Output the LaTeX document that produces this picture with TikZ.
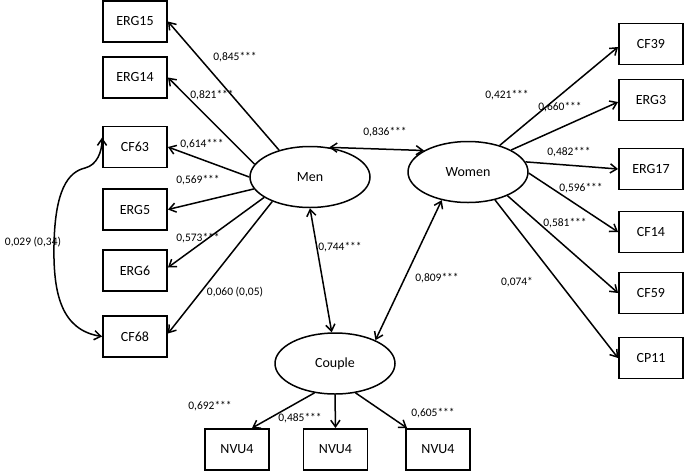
\documentclass[tikz,border=0pt]{standalone}
\usepackage{fontspec}
\setmainfont{Carlito}
\usetikzlibrary{shapes.geometric,arrows.meta}
\begin{document}
\begin{tikzpicture}[x=1pt,y=-1pt,
  box/.style={draw,line width=1.9pt,minimum width=64pt,minimum height=41pt,inner sep=0pt,font=\fontsize{14}{16}\selectfont},
  lat/.style={draw,ellipse,line width=1.5pt,minimum width=120pt,minimum height=61pt,inner sep=0pt,font=\fontsize{14}{16}\selectfont},
  arr/.style={line width=1.5pt,-{Straight Barb[angle=70:8pt]}},
  darr/.style={line width=1.5pt,{Straight Barb[angle=70:8pt]}-{Straight Barb[angle=70:8pt]}},
  lab/.style={font=\fontsize{11.5}{13}\selectfont,inner sep=1pt}]
\useasboundingbox (0,0) rectangle (685,472);
% left boxes
\node[box] (erg15) at (135,21.5) {ERG15};
\node[box] (erg14) at (135,77.5) {ERG14};
\node[box] (cf63) at (135,147) {CF63};
\node[box] (erg5) at (135,209.5) {ERG5};
\node[box] (erg6) at (135,270.5) {ERG6};
\node[box] (cf68) at (135,336.5) {CF68};
% right boxes
\node[box] (cf39) at (651,44) {CF39};
\node[box] (erg3) at (651,100) {ERG3};
\node[box] (erg17) at (651,169) {ERG17};
\node[box] (cf14) at (651,232) {CF14};
\node[box] (cf59) at (651,293) {CF59};
\node[box] (cp11) at (651,358) {CP11};
% bottom boxes
\node[box] (nvuA) at (237,449.5) {NVU4};
\node[box] (nvuB) at (335.5,449.5) {NVU4};
\node[box] (nvuC) at (438,449.5) {NVU4};
% latent
\node[lat] (men) at (310,177) {Men};
\node[lat] (women) at (468,172) {Women};
\node[lat] (couple) at (335,363.5) {Couple};
% men loadings
\draw[arr] (men.139) -- (erg15.east);
\draw[arr] (men.167) -- (erg14.east);
\draw[arr] (men.180) -- (cf63.east);
\draw[arr] (men.192) -- (erg5.east);
\draw[arr] (men.204) -- ([yshift=3pt]erg6.east);
\draw[arr] (men.213) -- ([yshift=3pt]cf68.east);
% women loadings
\draw[arr] (women.40) -- ([yshift=-3pt]cf39.west);
\draw[arr] (women.27) -- ([yshift=-2pt]erg3.west);
\draw[arr] (women.10) -- (erg17.west);
\draw[arr] (women.359) -- (cf14.west);
\draw[arr] (women.329) -- (cf59.west);
\draw[arr] (women.314) -- (cp11.west);
% couple loadings
\draw[arr] (couple.235) -- ([xshift=15pt]nvuA.north);
\draw[arr] (couple.south) -- (nvuB.north);
\draw[arr] (couple.305) -- ([xshift=2pt]nvuC.north west);
% correlations
\draw[darr] (men.57) -- (women.154);
\draw[darr] (men.south) -- (couple.96);
\draw[darr] (women.227) -- (couple.30);
\draw[darr] (cf68.west) .. controls (62,330) and (53,295) .. (54,245)
  .. controls (55,190) and (68,172) .. (85,168)
  .. controls (97,165) and (102,152) .. (cf63.164);
% labels
\node[lab] at (235,57) {0,845***};
\node[lab] at (212,95) {0,821***};
\node[lab] at (202,144) {0,614***};
\node[lab] at (198,180) {0,569***};
\node[lab] at (198,238) {0,573***};
\node[lab] at (235,292) {0,060 (0,05)};
\node[lab] at (33,242) {0,029 (0,34)};
\node[lab] at (385,132) {0,836***};
\node[lab] at (340,247) {0,744***};
\node[lab] at (437,278) {0,809***};
\node[lab] at (210,406) {0,692***};
\node[lab] at (300,418) {0,485***};
\node[lab] at (433,413) {0,605***};
\node[lab] at (507,95) {0,421***};
\node[lab] at (560,107) {0,660***};
\node[lab] at (569,152) {0,482***};
\node[lab] at (581,188) {0,596***};
\node[lab] at (565,223) {0,581***};
\node[lab] at (517,282) {0,074*};
\end{tikzpicture}
\end{document}
